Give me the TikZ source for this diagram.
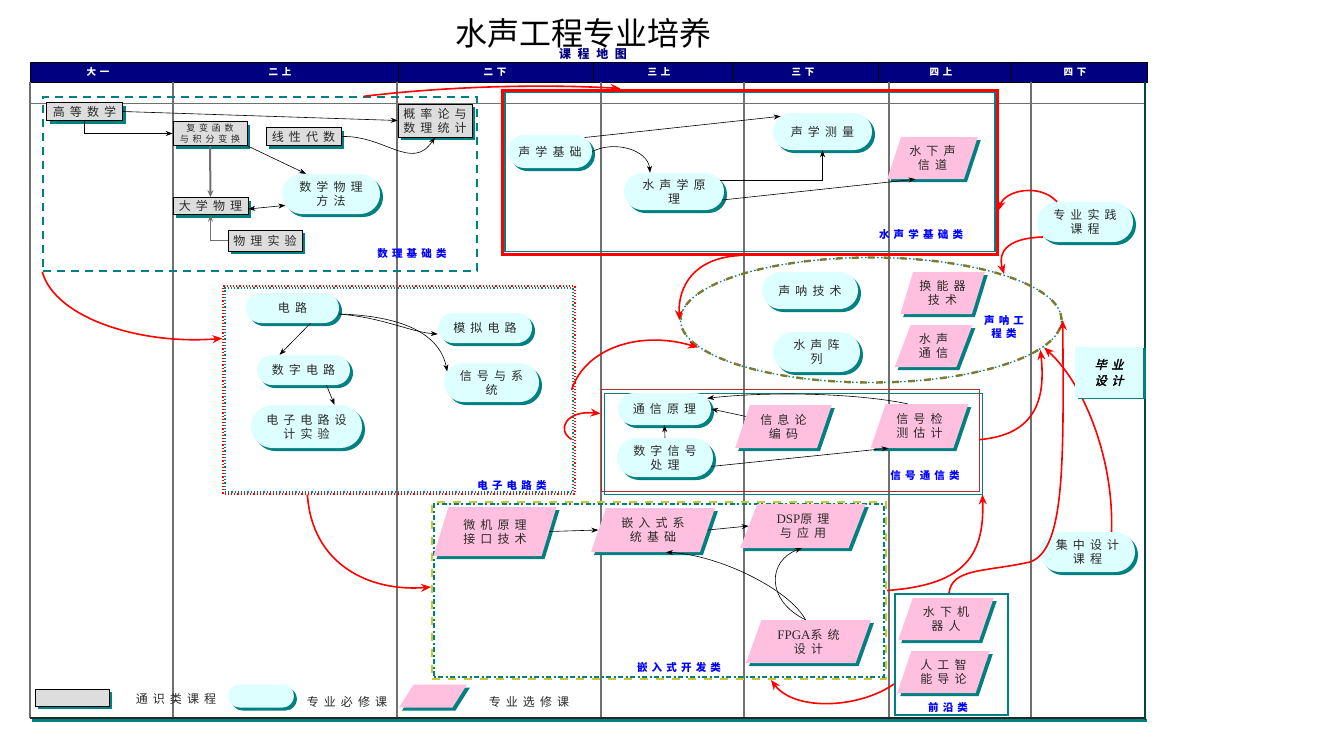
\documentclass[tikz,border=0pt]{standalone}
\usepackage{fontspec}
\setmainfont{Noto Sans CJK SC}
\newfontfamily\cjksp[LetterSpace=42]{Noto Sans CJK SC}
\newfontfamily\cjkbsp[LetterSpace=40]{Noto Sans CJK SC}
\newfontfamily\cjkwsp[LetterSpace=55]{Noto Sans CJK SC}
\newfontfamily\serifL{Liberation Serif}
\newfontfamily\bif[FakeSlant=0.25,FakeBold=2.5,LetterSpace=40]{Noto Sans CJK SC}
\usetikzlibrary{shapes.geometric,shapes.misc,shadows,arrows.meta,calc}
\definecolor{navyc}{HTML}{000080}
\definecolor{tealc}{HTML}{008080}
\definecolor{cyanc}{HTML}{DDFFFF}
\definecolor{pinkc}{HTML}{FFC0DF}
\definecolor{grayc}{HTML}{DDDDDD}
\definecolor{bluec}{HTML}{0000FF}
\definecolor{redc}{HTML}{FF0000}
\definecolor{olivec}{HTML}{7A7A30}
\definecolor{yelc}{HTML}{C8C832}
\definecolor{darkredc}{HTML}{B03030}
\definecolor{gridc}{HTML}{707070}
\definecolor{txtc}{HTML}{2A2A2A}
\newcommand\myNF{\cjksp\fontsize{12}{14}\selectfont}
\newcommand\mySF{\cjksp\fontsize{9}{10.5}\selectfont}
\newcommand\myCF{\cjkbsp\bfseries\fontsize{10.5}{12.5}\selectfont}
\tikzset{
  sh/.style={drop shadow={shadow xshift=3pt,shadow yshift=-3pt,fill=tealc,opacity=1}},
  gen/.style={rectangle, draw=black, line width=0.6pt, fill=grayc, inner sep=0pt, align=center, sh, font=\myNF, text=txtc},
  req/.style={rounded rectangle, fill=cyanc, draw=none, inner sep=0pt, align=center, sh, font=\myNF, text=txtc},
  ele/.style={trapezium, trapezium left angle=68, trapezium right angle=112, trapezium stretches=true, fill=pinkc, draw=none, inner sep=0pt, align=center, sh, font=\myNF, text=txtc},
  blk/.style={-{Stealth[length=7pt,width=5pt]}, line width=0.6pt, black},
  redarr/.style={-{Stealth[length=10pt,width=8pt]}, line width=1.6pt, redc},
  cat/.style={font=\myCF, text=bluec, align=center, inner sep=0pt},
  hdrtxt/.style={font=\cjkbsp\bfseries\fontsize{9.5}{11}\selectfont, text=white, inner sep=0pt},
  region/.style={rectangle, inner sep=0pt, fill=none},
}
\begin{document}
\begin{tikzpicture}[x=1pt,y=-1pt]
\useasboundingbox (0,0) rectangle (1341,745);
\fill[white] (0,0) rectangle (1341,745);

% title
\node[inner sep=0pt] (title) at (583,33) {\fontsize{32}{32}\selectfont 水声工程专业培养};
\node[font=\cjkwsp\bfseries\fontsize{12}{13}\selectfont, text=navyc, inner sep=0pt] (subtitle) at (593,54) {课程地图};

% header band
\node[draw=black, fill=navyc, line width=1pt, minimum width=1117, minimum height=20, inner sep=0pt] (hdr) at (588.5,72) {};
\foreach \x in {398,593,732,878,1011} \draw[black, line width=0.8pt] (\x,62) -- (\x,82);
\foreach \x/\t in {98/大一,280/二上,495/二下,659/三上,803/三下,941/四上,1075/四下}
  \node[hdrtxt] (h\x) at (\x,72) {\t};

% body grid
\draw[gridc, line width=2.2pt] (30,82) -- (30,718);
\foreach \x in {173,397,601,744,889,1031} \draw[gridc, line width=1.3pt] (\x,82) -- (\x,718);
\draw[gridc, line width=1pt] (30,103) -- (1145,103);
\draw[tealc, line width=2.5pt] (32,720.5) -- (1147,720.5);
\draw[black!85, line width=1.3pt] (30,718) -- (1145,718);
\draw[tealc!55!black, line width=2.5pt] (1145,82) -- (1145,720);

% regions
\node[region, draw=tealc, line width=1.5pt, dash pattern=on 8pt off 6pt, minimum width=434, minimum height=174] (mathbox) at (260,184) {};
\node[region, draw=tealc, line width=1.5pt, minimum width=490, minimum height=159] (acin) at (750,172) {};
\node[region, draw=redc, line width=3pt, minimum width=495, minimum height=164] (acbox) at (749.5,172) {};
\node[region, draw=tealc, line width=1.2pt, dash pattern=on 1.2pt off 2pt, minimum width=348, minimum height=204] (ecin) at (399,390) {};
\node[region, draw=redc, line width=1.2pt, dash pattern=on 1.2pt off 2pt, dash phase=1.6pt, minimum width=352, minimum height=208] (ecbox) at (399,390) {};
\node[region, draw=tealc, line width=0.8pt, minimum width=378, minimum height=101] (sigin) at (793,443.5) {};
\node[region, draw=darkredc, line width=0.8pt, minimum width=378, minimum height=102] (sigbox) at (790,440) {};
\node[region, draw=tealc, line width=2pt, dash pattern=on 2pt off 2pt on 5pt off 3pt, minimum width=450, minimum height=173] (embin) at (659,590.5) {};
\node[region, draw=yelc, line width=2pt, dash pattern=on 8pt off 8pt, minimum width=454, minimum height=177] (embbox) at (659,590.5) {};
\node[region, draw=tealc, line width=2pt, minimum width=113, minimum height=121] (frontbox) at (951.5,654.5) {};
\node[ellipse, inner sep=0pt, draw=tealc, line width=1.3pt, dash pattern=on 1.5pt off 2.5pt, minimum width=381, minimum height=125] (sonarin) at (871,320) {};
\node[ellipse, inner sep=0pt, draw=olivec, line width=2.4pt, dash pattern=on 7pt off 9pt, minimum width=381, minimum height=125] (sonar) at (871,320) {};

% category labels
\node[cat] (c1) at (412,254) {数理基础类};
\node[cat] (c2) at (921,234) {水声学基础类};
\node[cat] (c3) at (512,485) {电子电路类};
\node[cat] (c4) at (1004,327) {声呐工\\程类};
\node[cat] (c5) at (925,475) {信号通信类};
\node[cat] (c6) at (679,667) {嵌入式开发类};
\node[cat] (c7) at (948,707) {前沿类};

% general courses
\node[gen, minimum width=76, minimum height=18] (gm) at (84.5,111.5) {高等数学};
\node[gen, minimum width=74, minimum height=24, font=\mySF] (fb) at (210,133.5) {复变函数\\与积分变换};
\node[gen, minimum width=75, minimum height=18] (la) at (303.5,136.5) {线性代数};
\node[gen, minimum width=74, minimum height=33] (prob) at (435,120.5) {概率论与\\数理统计};
\node[gen, minimum width=75, minimum height=17] (dp) at (210.5,206) {大学物理};
\node[gen, minimum width=74, minimum height=21] (pe) at (265,240.5) {物理实验};

% required courses
\node[req, minimum width=98, minimum height=40] (mpm) at (331,194) {数学物理\\方法};
\node[req, minimum width=84, minimum height=33] (sj) at (550,151.5) {声学基础};
\node[req, minimum width=99, minimum height=37] (sm) at (822.5,131.5) {声学测量};
\node[req, minimum width=100, minimum height=37] (ysl) at (674,191.5) {水声学原\\理};
\node[req, minimum width=96, minimum height=40] (prac) at (1085,222) {专业实践\\课程};
\node[req, minimum width=93, minimum height=30] (dl) at (292.5,308) {电路};
\node[req, minimum width=93, minimum height=30] (sz) at (303.5,370) {数字电路};
\node[req, minimum width=111, minimum height=43] (dzsy) at (306.5,426.5) {电子电路设\\计实验};
\node[req, minimum width=94, minimum height=30] (mn) at (485,328) {模拟电路};
\node[req, minimum width=95, minimum height=39] (xh) at (491.5,382.5) {信号与系\\统};
\node[req, minimum width=96, minimum height=37] (snjs) at (810,290.5) {声呐技术};
\node[req, minimum width=87, minimum height=40] (sszl) at (816.5,352) {水声阵\\列};
\node[req, minimum width=93, minimum height=32] (tx) at (664.5,409) {通信原理};
\node[req, minimum width=96, minimum height=39] (szxh) at (665,457.5) {数字信号\\处理};
\node[req, minimum width=95, minimum height=40] (conc) at (1087.5,552) {集中设计\\课程};

% elective courses
\node[ele, minimum width=91, minimum height=42] (hxs) at (932.5,158) {水下声\\信道};
\node[ele, minimum width=85, minimum height=42] (hnq) at (942.5,293) {换能器\\技术};
\node[ele, minimum width=78, minimum height=42] (sstx) at (933.5,346) {水声\\通信};
\node[ele, minimum width=97, minimum height=43] (xxl) at (783.5,426.5) {信息论\\编码};
\node[ele, minimum width=98, minimum height=44] (xjc) at (919.5,426) {信号检\\测估计};
\node[ele, minimum width=124, minimum height=49] (wj) at (495,531.5) {微机原理\\接口技术};
\node[ele, minimum width=124, minimum height=44] (qrs) at (653,530) {嵌入式系\\统基础};
\node[ele, minimum width=126, minimum height=44] (dsp) at (803,526) {{\serifL\fontsize{13}{14}\selectfont DSP}原理\\与应用};
\node[ele, minimum width=125, minimum height=43] (fpga) at (808.5,641.5) {{\serifL\fontsize{13}{14}\selectfont FPGA}系统\\设计};
\node[ele, minimum width=96, minimum height=42] (sxjqr) at (946,619) {水下机\\器人};
\node[ele, minimum width=93, minimum height=42] (rgzn) at (943.5,672) {人工智\\能导论};

% legend
\node[gen, minimum width=74, minimum height=17] (lg1) at (72,697.5) {\phantom{专}};
\node[font=\myNF, text=txtc, inner sep=0pt] (lt1) at (176,699) {通识类课程};
\node[req, minimum width=66, minimum height=23] (lg2) at (261,696) {\phantom{专}};
\node[font=\myNF, text=txtc, inner sep=0pt] (lt2) at (347,702) {专业必修课};
\node[ele, minimum width=68, minimum height=23] (lg3) at (433,696) {\phantom{专}};
\node[font=\myNF, text=txtc, inner sep=0pt] (lt3) at (529,702) {专业选修课};

% red inter-group arrows
\draw[redarr] ([xshift=322]mathbox.north west) .. controls (450,86) and (545,84) .. ([xshift=120]acbox.north west);
\draw[redarr] (mathbox.south west) .. controls (55,318) and (140,345) .. ([yshift=-53]ecbox.north west);
\draw[redarr] ([xshift=85]ecbox.south west) .. controls (312,565) and (370,592) .. ([yshift=-86]embbox.north west);
\draw[redarr] ([xshift=-4]ecbox.east) .. controls (585,348) and (640,330) .. (sonar.189);
\draw[redarr] ([xshift=-4,yshift=-154]ecbox.north east) .. controls (556,430) and (566,410) .. ([yshift=-25]sigbox.north west);
\draw[redarr] ([xshift=239]acbox.south west) .. controls (695,258) and (678,285) .. (sonar.west);
\draw[redarr] ([xshift=-28]prac.north) .. controls (1040,183) and (1005,190) .. ([yshift=-122]acbox.north east);
\draw[redarr] ([xshift=6,yshift=-15]prac.west) .. controls (1010,238) and (997,250) .. (sonar.19);
\draw[redarr] ([yshift=-51]sigbox.north east) .. controls (1035,435) and (1046,400) .. (sonar.-10);
\draw[redarr] ([xshift=24]conc.north) .. controls (1114,460) and (1085,385) .. (sonar.-9);
\draw[redarr] ([xshift=55]frontbox.north west) .. controls (952,568) and (985,572) .. (1030,562) .. controls (1064,550) and (1064,470) .. (sonar.east);
\draw[redarr] (embbox.east) .. controls (960,585) and (985,560) .. (sigin.south east);
\draw[redarr] ([yshift=-91]frontbox.north west) .. controls (860,708) and (795,712) .. ([xshift=340]embbox.south west);

% graduation design (on top of red curve)
\node[rectangle, fill=cyanc, inner sep=0pt, minimum width=68, minimum height=51, align=center,
  drop shadow={shadow xshift=3pt,shadow yshift=-1pt,fill=tealc,opacity=1},
  font=\bif\fontsize{12}{16}\selectfont] (bysj) at (1109,372.5) {毕业\\设计};

% black arrows
\draw[blk] (gm.east) -- (prob.west);
\draw[blk] (gm.south) |- (fb.west);
\draw[blk] (fb.south east) -- (mpm.141);
\draw[-{Stealth[length=7pt,width=6pt]}, line width=2pt, gridc] (fb.south) -- (dp.north);
\draw[blk, {Stealth[length=7pt,width=5pt]}-{Stealth[length=7pt,width=5pt]}] ([yshift=-3]dp.east) -- (mpm.194);
\draw[-{Stealth[length=7pt,width=5pt]}, line width=1.2pt, gridc] (pe.west) -| (dp.south);
\draw[blk] (la.east) .. controls (385,135) and (412,172) .. (prob.south);
\draw[blk] (sj.22) -- (sm.160);
\draw[blk] (sj.east) .. controls (615,140) and (648,150) .. (ysl.142);
\draw[blk] (ysl.14) -| (sm.south);
\draw[blk] (ysl.-10) -- ([xshift=-17]hxs.south);
\draw[blk] ([xshift=18]dl.south) -- ([xshift=-24]sz.north);
\draw[blk] ([xshift=23]sz.south) -- ([xshift=28]dzsy.north);
\draw[blk] ([yshift=-6]dl.east) .. controls (385,318) and (410,332) .. ([yshift=-6]mn.west);
\draw[blk] ([yshift=-6]dl.east) .. controls (405,316) and (440,335) .. (xh.166);
\draw[blk] ([xshift=-12]xjc.north) .. controls (850,392) and (760,392) .. (tx.14);
\draw[blk] (xxl.165) -- (tx.east);
\draw[blk] (szxh.north) -- (tx.south);
\draw[blk] (szxh.-11) -- ([xshift=-31]xjc.south);
\draw[blk] (wj.east) -- (qrs.west);
\draw[blk] (qrs.east) -- (dsp.west);
\draw[blk] ([xshift=-3]fpga.north) .. controls (790,590) and (720,555) .. ([xshift=13]qrs.south);
\draw[blk] ([xshift=-3]fpga.north) .. controls (765,600) and (768,560) .. ([xshift=-1]dsp.south);
\end{tikzpicture}
\end{document}
